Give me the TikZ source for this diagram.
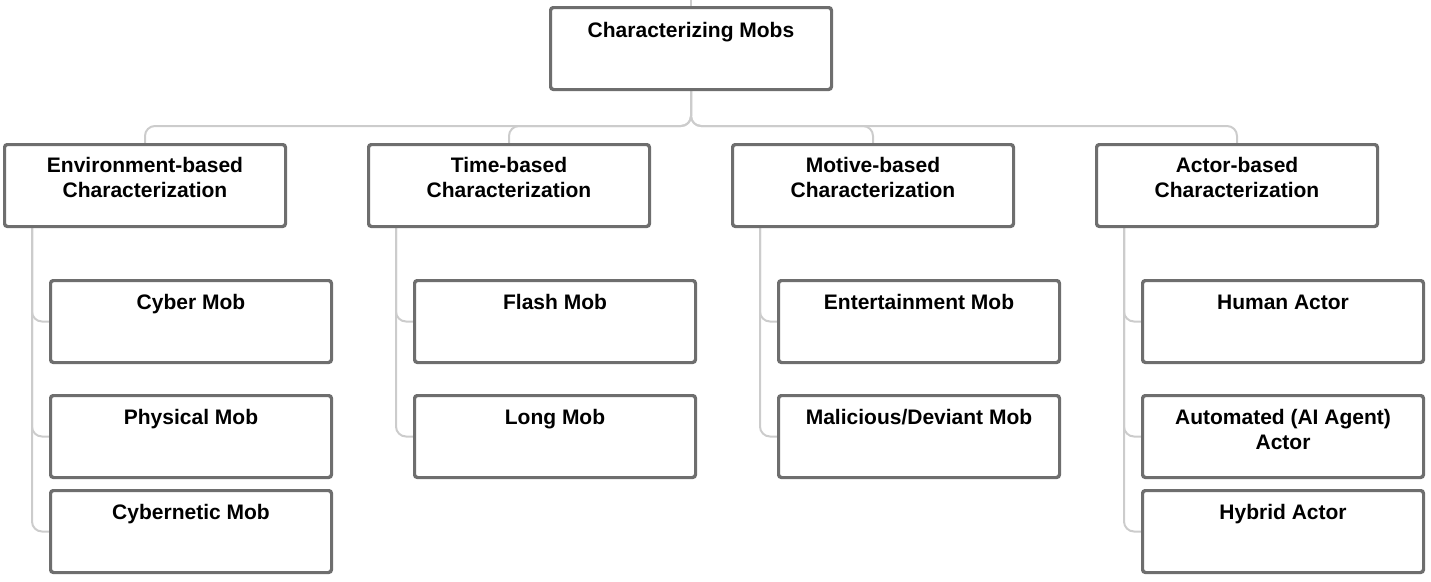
\documentclass[tikz,border=0pt]{standalone}
\usepackage{fontspec}
\setmainfont{Liberation Sans}
\definecolor{conncol}{RGB}{204,204,204}
\definecolor{boxcol}{RGB}{110,110,110}
\begin{document}
\begin{tikzpicture}[x=1pt,y=-1pt,
  box/.style={draw=boxcol,line width=2pt,rounded corners=3pt,fill=white,
    minimum width=280pt,minimum height=81pt,inner sep=0pt},
  lbl/.style={anchor=north,align=center,font=\fontsize{21}{25}\selectfont\bfseries,inner sep=0pt},
  conn/.style={draw=conncol,line width=2pt,rounded corners=10pt}]
\useasboundingbox (0,0) rectangle (1431,581);
% root
\node[box] (root) at (691,48.5) {};
\node[lbl] (rootl) at (691,22) {Characterizing Mobs};
\coordinate (top) at (691,0);
\coordinate (bus) at (691,126);
% level 1
\foreach \n/\x/\t in {env/145/{Environment-based\\Characterization},
                      time/509/{Time-based\\Characterization},
                      mot/873/{Motive-based\\Characterization},
                      act/1237/{Actor-based\\Characterization}}{
  \node[box] (\n) at (\x,185.5) {};
  \node[lbl] (\n l) at (\x,157.5) {\t};
}
% level 2
\foreach \n/\x/\y/\t in {c1/191/321.5/{Cyber Mob},
                         c2/191/436.5/{Physical Mob},
                         c3/191/531.5/{Cybernetic Mob},
                         t1/555/321.5/{Flash Mob},
                         t2/555/436.5/{Long Mob},
                         m1/919/321.5/{Entertainment Mob},
                         m2/919/436.5/{Malicious/Deviant Mob},
                         a1/1283/321.5/{Human Actor},
                         a2/1283/436.5/{Automated (AI Agent)\\Actor},
                         a3/1283/531.5/{Hybrid Actor}}{
  \node[box] (\n) at (\x,\y) {};
  \node[lbl] (\n l) at (\x,\y-27) {\t};
}
% connectors
\draw[conn] (root.north) -- (top);
\foreach \n in {env,time,mot,act}{
  \draw[conn] (root.south) -- (bus) -| (\n.north);
}
\foreach \p/\c in {env/c1,env/c2,env/c3,time/t1,time/t2,mot/m1,mot/m2,act/a1,act/a2,act/a3}{
  \draw[conn] ([xshift=28pt]\p.south west) |- (\c.west);
}
% box borders over connector ends
\foreach \n in {root,env,time,mot,act,c1,c2,c3,t1,t2,m1,m2,a1,a2,a3}{
  \draw[draw=boxcol,line width=2pt,rounded corners=3pt] (\n.south west) rectangle (\n.north east);
}
\end{tikzpicture}
\end{document}
